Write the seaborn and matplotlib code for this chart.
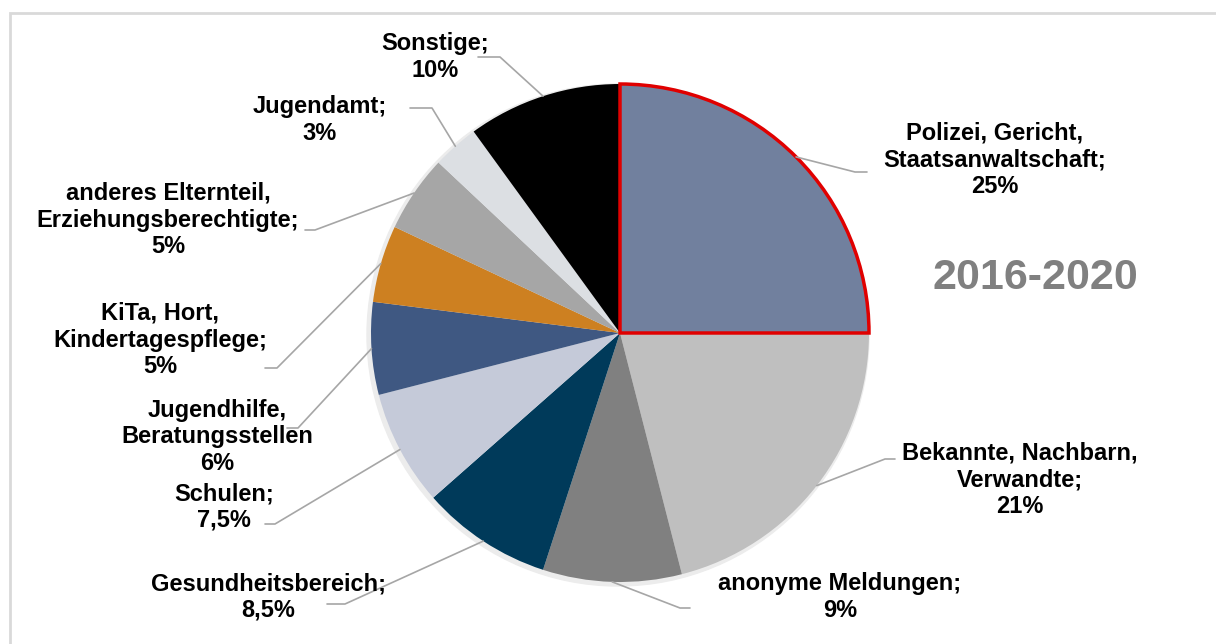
import matplotlib
matplotlib.use("Agg")
import numpy as np
import seaborn as sns
import matplotlib.pyplot as plt
from matplotlib.patches import Rectangle

# Daten (Anteile in %, im Uhrzeigersinn ab 12 Uhr)
labels = ["Polizei, Gericht,\nStaatsanwaltschaft;\n25%",
          "Bekannte, Nachbarn,\nVerwandte;\n21%",
          "anonyme Meldungen;\n9%",
          "Gesundheitsbereich;\n8,5%",
          "Schulen;\n7,5%",
          "Jugendhilfe,\nBeratungsstellen\n6%",
          "KiTa, Hort,\nKindertagespflege;\n5%",
          "anderes Elternteil,\nErziehungsberechtigte;\n5%",
          "Jugendamt;\n3%",
          "Sonstige;\n10%"]
shares = [25, 21, 9, 8.5, 7.5, 6, 5, 5, 3, 10]
colors = ["#71809e", "#bfbfbf", "#808080", "#003a5a", "#c5cad9",
          "#3f5882", "#cd8021", "#a6a6a6", "#dcdfe3", "#000000"]

# Layout (Pixel, y von oben)
label_pos = [(995, 160), (1020, 480), (840, 597), (268, 597), (224, 507),
             (217, 437), (160, 340), (168, 220), (320, 120), (435, 57)]
elbow = [(855, 172), (885, 459), (680, 608), (345, 604), (275, 524),
         (298, 428), (277, 368), (315, 230), (432, 108), (500, 57)]
tail = [(867, 172), (895, 459), (690, 608), (327, 604), (265, 524),
        (287, 428), (265, 368), (305, 230), (410, 108), (478, 57)]

sns.set_theme(style="white")
plt.rcParams["font.family"] = ["Liberation Sans", "DejaVu Sans"]

W, H = 1216, 644
fig = plt.figure(figsize=(W / 100, H / 100), dpi=100)
ax = fig.add_axes([0, 0, 1, 1])

# Rahmen (nur oben/links sichtbar)
ax.add_patch(Rectangle((10, -20), W + 40, H - 13 + 20, fill=False,
                       edgecolor="#d9d9d9", linewidth=2))

cx, cy, r = 620, H - 333, 249
# leichter Schatten
ax.add_patch(plt.Circle((cx - 2, cy - 2), r + 2, color="#ececec", zorder=1))

wedges, _ = ax.pie(shares, colors=colors, startangle=90, counterclock=False,
                   center=(cx, cy), radius=r, frame=True,
                   wedgeprops=dict(linewidth=0))
for w in wedges:
    w.set_zorder(2)
ax.set_xlim(0, W)
ax.set_ylim(0, H)
ax.set_aspect("equal")
ax.axis("off")

# rote Umrandung des ersten Segments
wedges[0].set_edgecolor("#e00000")
wedges[0].set_linewidth(2.5)
wedges[0].set_zorder(3)

for w, lab, lp, eb, tl in zip(wedges, labels, label_pos, elbow, tail):
    ang = np.deg2rad((w.theta1 + w.theta2) / 2)
    px, py = cx + r * np.cos(ang), cy + r * np.sin(ang)
    ax.plot([px, eb[0], tl[0]], [py, H - eb[1], H - tl[1]],
            color="#a6a6a6", linewidth=1.2, zorder=4)
    ax.text(lp[0], H - lp[1], lab, ha="center", va="center", fontsize=17,
            fontweight="bold", color="black", linespacing=1.2, zorder=5)

ax.text(1035, H - 278, "2016-2020", ha="center", va="center", fontsize=31,
        fontweight="bold", color="#808080")

fig.savefig("out.png", dpi=100)
